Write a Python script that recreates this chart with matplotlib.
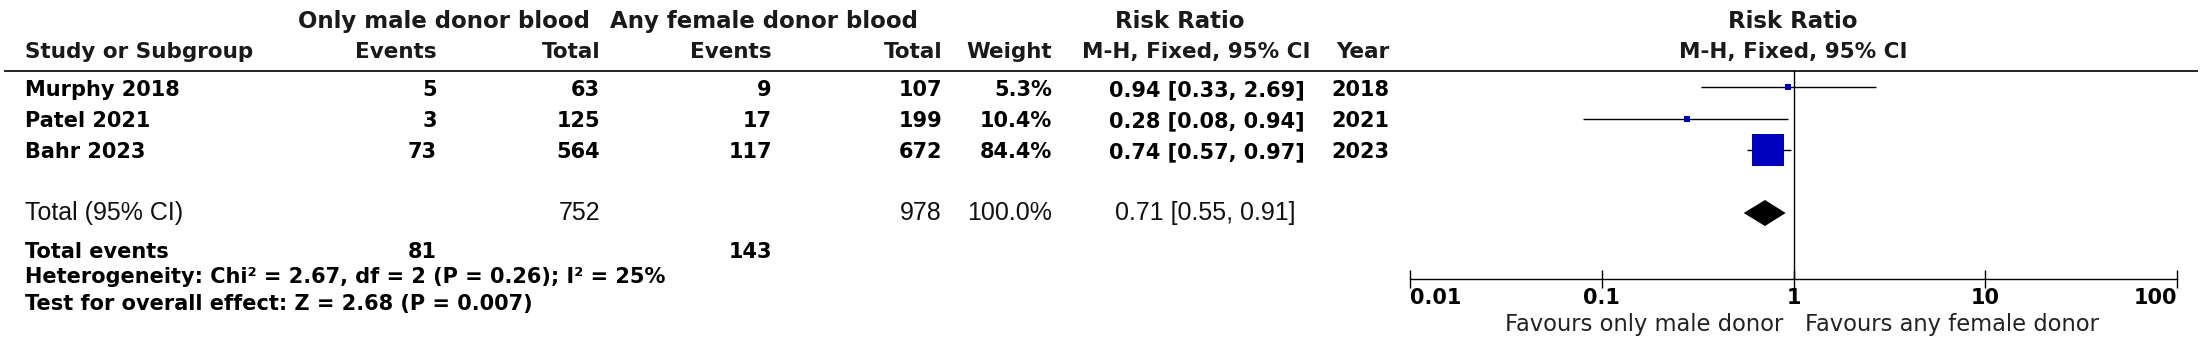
import matplotlib
matplotlib.use("Agg")
import matplotlib.pyplot as plt
import numpy as np
from matplotlib.ticker import NullLocator

# ---------------- data ----------------
studies = ["Murphy 2018", "Patel 2021", "Bahr 2023"]
male_events = [5, 3, 73]
male_total = [63, 125, 564]
female_events = [9, 17, 117]
female_total = [107, 199, 672]
weights = [5.3, 10.4, 84.4]
rr = [0.94, 0.28, 0.74]
ci_low = [0.33, 0.08, 0.57]
ci_high = [2.69, 0.94, 0.97]
years = [2018, 2021, 2023]

total_male = 752
total_female = 978
total_weight = 100.0
total_rr = 0.71
total_low = 0.55
total_high = 0.91
events_male = 81
events_female = 143
heterogeneity_text = "Heterogeneity: Chi² = 2.67, df = 2 (P = 0.26); I² = 25%"
overall_text = "Test for overall effect: Z = 2.68 (P = 0.007)"

axis_ticks = [0.01, 0.1, 1, 10, 100]
axis_labels = ["0.01", "0.1", "1", "10", "100"]
favours_left = "Favours only male donor"
favours_right = "Favours any female donor"

# ---------------- layout ----------------
W, H = 2210, 364
DPI = 100
fig = plt.figure(figsize=(W / DPI, H / DPI), dpi=DPI)
fig.patch.set_facecolor("white")

tax = fig.add_axes([0, 0, 1, 1])
tax.set_xlim(0, W)
tax.set_ylim(H, 0)
tax.axis("off")

HDR = dict(family=["DejaVu Sans"], weight="bold", fontsize=15.5, color="#1a1a1a")
HDR1 = dict(HDR, fontsize=16.5)
DAT = dict(family=["DejaVu Sans"], weight="bold", fontsize=15, color="black")
TOT = dict(family=["Liberation Sans", "DejaVu Sans"], fontsize=18, color="#111111")
FAV = dict(family=["DejaVu Sans"], fontsize=16.3, color="#222222")

# column anchors (pixels)
X_STUDY = 25
X_MEV = 437
X_MTOT = 600
X_FEV = 772
X_FTOT = 942
X_WT = 1052
X_CI = 1207
X_YEAR = 1389
X_RR_PANEL = 1793

# header rows
Y_H1, Y_H2 = 28, 58
tax.text(444, Y_H1, "Only male donor blood", ha="center", va="baseline", **HDR1)
tax.text(764, Y_H1, "Any female donor blood", ha="center", va="baseline", **HDR1)
tax.text(1180, Y_H1, "Risk Ratio", ha="center", va="baseline", **HDR1)
tax.text(X_RR_PANEL, Y_H1, "Risk Ratio", ha="center", va="baseline", **HDR1)

tax.text(X_STUDY, Y_H2, "Study or Subgroup", ha="left", va="baseline", **HDR)
tax.text(X_MEV, Y_H2, "Events", ha="right", va="baseline", **HDR)
tax.text(X_MTOT, Y_H2, "Total", ha="right", va="baseline", **HDR)
tax.text(X_FEV, Y_H2, "Events", ha="right", va="baseline", **HDR)
tax.text(X_FTOT, Y_H2, "Total", ha="right", va="baseline", **HDR)
tax.text(X_WT, Y_H2, "Weight", ha="right", va="baseline", **HDR)
tax.text(1196, Y_H2, "M-H, Fixed, 95% CI", ha="center", va="baseline", **HDR)
tax.text(X_YEAR, Y_H2, "Year", ha="right", va="baseline", **HDR)
tax.text(X_RR_PANEL, Y_H2, "M-H, Fixed, 95% CI", ha="center", va="baseline", **HDR)

tax.plot([4, 2198], [71, 71], color="black", lw=1.2, solid_capstyle="butt")

# study rows
row_base = [96, 127, 158]
for i, name in enumerate(studies):
    yb = row_base[i]
    tax.text(X_STUDY, yb, name, ha="left", va="baseline", **DAT)
    tax.text(X_MEV, yb, f"{male_events[i]}", ha="right", va="baseline", **DAT)
    tax.text(X_MTOT, yb, f"{male_total[i]}", ha="right", va="baseline", **DAT)
    tax.text(X_FEV, yb, f"{female_events[i]}", ha="right", va="baseline", **DAT)
    tax.text(X_FTOT, yb, f"{female_total[i]}", ha="right", va="baseline", **DAT)
    tax.text(X_WT, yb, f"{weights[i]:.1f}%", ha="right", va="baseline", **DAT)
    tax.text(X_CI, yb, f"{rr[i]:.2f} [{ci_low[i]:.2f}, {ci_high[i]:.2f}]",
             ha="center", va="baseline", **DAT)
    tax.text(X_YEAR, yb, f"{years[i]}", ha="right", va="baseline", **DAT)

# total rows
Y_TOT = 220
tax.text(X_STUDY, Y_TOT, "Total (95% CI)", ha="left", va="baseline", **TOT)
tax.text(X_MTOT, Y_TOT, f"{total_male}", ha="right", va="baseline", **TOT)
tax.text(X_FTOT, Y_TOT, f"{total_female}", ha="right", va="baseline", **TOT)
tax.text(X_WT, Y_TOT, f"{total_weight:.1f}%", ha="right", va="baseline", **TOT)
tax.text(1205, Y_TOT, f"{total_rr:.2f} [{total_low:.2f}, {total_high:.2f}]",
         ha="center", va="baseline", **TOT)

Y_EV = 258
tax.text(X_STUDY, Y_EV, "Total events", ha="left", va="baseline", **DAT)
tax.text(X_MEV, Y_EV, f"{events_male}", ha="right", va="baseline", **DAT)
tax.text(X_FEV, Y_EV, f"{events_female}", ha="right", va="baseline", **DAT)
tax.text(X_STUDY, 283, heterogeneity_text, ha="left", va="baseline", **DAT)
tax.text(X_STUDY, 310, overall_text, ha="left", va="baseline", **DAT)

# ---------------- forest panel ----------------
AX_X0, AX_X1 = 1410, 2177
AX_TOP, AX_BOT = 71, 279
ROW0, ROWSTEP = 87, 31.5
fax = fig.add_axes([AX_X0 / W, 1 - AX_BOT / H, (AX_X1 - AX_X0) / W, (AX_BOT - AX_TOP) / H])
fax.patch.set_alpha(0)
fax.set_xscale("log")
fax.set_xlim(axis_ticks[0], axis_ticks[-1])
fax.set_ylim((AX_BOT - ROW0) / ROWSTEP, (AX_TOP - ROW0) / ROWSTEP)
for s in ["top", "left", "right"]:
    fax.spines[s].set_visible(False)
fax.spines["bottom"].set_linewidth(1.0)
fax.set_yticks([])
fax.set_xticks(axis_ticks)
fax.set_xticklabels(axis_labels)
fax.xaxis.set_minor_locator(NullLocator())
fax.tick_params(axis="x", direction="inout", length=12.5, width=1.0, pad=0, labelsize=15)
labels = fax.get_xticklabels()
for lbl in labels:
    lbl.set_fontweight("bold")
    lbl.set_family("DejaVu Sans")
labels[0].set_ha("left")
labels[-1].set_ha("right")

fax.axvline(1, color="black", lw=1.0)

rows = np.arange(len(studies))
fax.hlines(rows, ci_low, ci_high, color="black", lw=1.0)
side_px = np.maximum(6, 0.38 * np.array(weights))
for r, x, s in zip(rows, rr, side_px):
    fax.plot([x], [r], marker="s", markersize=s * 72 / DPI, color="#0000BF",
             markeredgewidth=0, linestyle="none", clip_on=False)

r_tot = 4
h = 13 / ROWSTEP
fax.fill([total_low, total_rr, total_high, total_rr],
         [r_tot, r_tot - h, r_tot, r_tot + h], color="black", lw=0)

tax.text(1783, 331, favours_left, ha="right", va="baseline", **FAV)
tax.text(1805, 331, favours_right, ha="left", va="baseline", **FAV)

fig.savefig("out.png", dpi=DPI, facecolor="white")
